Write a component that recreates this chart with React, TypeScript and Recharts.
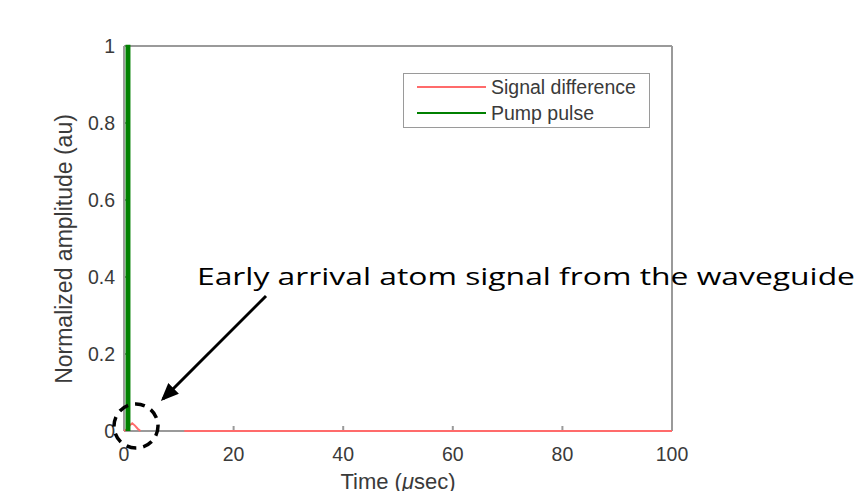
import React from "react";
import { LineChart, Line, XAxis, YAxis } from "recharts";

const TIME_TICKS = [0, 20, 40, 60, 80, 100];
const AMP_TICKS = [0, 0.2, 0.4, 0.6, 0.8, 1];

// signal difference: tiny bump near t=1.5, gap, then flat zero
const SIGNAL_T = [0, 0.5, 1, 1.5, 2, 2.5, 3, 3.5, 11, 30, 60, 100];
const SIGNAL_V = [0, 0.004, 0.014, 0.02, 0.014, 0.006, 0, null, 0, 0, 0, 0];

// pump pulse: narrow rectangle at the start
const PUMP_T = [0.5, 0.5, 0.95, 0.95];
const PUMP_V = [0, 1, 1, 0];

const signalData = SIGNAL_T.map((t, i) => ({ t, v: SIGNAL_V[i] }));
const pumpData = PUMP_T.map((t, i) => ({ t, v: PUMP_V[i] }));

const SERIES = [
  { name: "Signal difference", color: "#ff6b6b" },
  { name: "Pump pulse", color: "#008000" },
];

const AXIS = "#9a9a9a";
const TXT = "#3a3a3a";
const FONT = "'Liberation Sans', Arial, sans-serif";

const LegendBox = () => (
  <div
    style={{
      position: "absolute",
      left: 403,
      top: 73,
      border: `1.5px solid ${AXIS}`,
      background: "#fff",
      width: 247,
      height: 55,
      boxSizing: "border-box",
      fontFamily: FONT,
      fontSize: 19.5,
      color: TXT,
      padding: "0 0 0 13px",
    }}
  >
    {SERIES.map((e) => (
      <div key={e.name} style={{ display: "flex", alignItems: "center", height: 26 }}>
        <span style={{ display: "inline-block", width: 69, height: 2.5, background: e.color, marginRight: 5 }} />
        {e.name}
      </div>
    ))}
  </div>
);

export default function App() {
  return (
    <div style={{ position: "absolute", left: 0, top: 0, width: 864, height: 491, background: "#fff" }}>
      <LineChart width={864} height={491} margin={{ top: 45, right: 191, left: 84, bottom: 30 }}>
        <XAxis
          dataKey="t"
          type="number"
          domain={[0, 100]}
          ticks={TIME_TICKS}
          allowDuplicatedCategory={false}
          stroke={AXIS}
          strokeWidth={2}
          tickSize={-5}
          tickMargin={21}
          height={30}
          tick={{ fill: TXT, fontSize: 19.5, fontFamily: FONT }}
        />
        <XAxis
          xAxisId="top"
          orientation="top"
          dataKey="t"
          type="number"
          domain={[0, 100]}
          ticks={TIME_TICKS}
          allowDuplicatedCategory={false}
          stroke={AXIS}
          strokeWidth={2}
          tickSize={-5}
          height={1}
          tick={false}
        />
        <YAxis
          type="number"
          domain={[0, 1]}
          ticks={AMP_TICKS}
          stroke={AXIS}
          strokeWidth={2}
          tickSize={-5}
          tickMargin={14}
          width={40}
          tick={{ fill: TXT, fontSize: 19.5, fontFamily: FONT }}
        />
        <YAxis
          yAxisId="right"
          orientation="right"
          type="number"
          domain={[0, 1]}
          ticks={AMP_TICKS}
          stroke={AXIS}
          strokeWidth={2}
          tickSize={-5}
          width={1}
          tick={false}
        />
        <Line
          data={signalData}
          dataKey="v"
          name="Signal difference"
          stroke={SERIES[0].color}
          strokeWidth={2}
          dot={false}
          type="linear"
          connectNulls={false}
          isAnimationActive={false}
          zIndex={700}
        />
        <Line
          data={pumpData}
          xAxisId="top"
          yAxisId="right"
          dataKey="v"
          name="Pump pulse"
          stroke={SERIES[1].color}
          strokeWidth={2.5}
          dot={false}
          type="linear"
          isAnimationActive={false}
          zIndex={700}
        />
      </LineChart>

      <LegendBox />

      {/* axis titles */}
      <div
        style={{
          position: "absolute",
          left: 64,
          top: 249,
          transform: "translate(-50%, -50%) rotate(-90deg)",
          whiteSpace: "nowrap",
          fontFamily: FONT,
          fontSize: 23,
          color: TXT,
        }}
      >
        Normalized amplitude (au)
      </div>
      <div
        style={{
          position: "absolute",
          left: 398,
          top: 469,
          transform: "translateX(-50%)",
          whiteSpace: "nowrap",
          fontFamily: FONT,
          fontSize: 22,
          color: TXT,
        }}
      >
        Time (<i>μ</i>sec)
      </div>

      {/* annotation */}
      <svg width={864} height={491} style={{ position: "absolute", left: 0, top: 0, pointerEvents: "none" }}>
        <defs>
          <marker id="head" markerWidth="6" markerHeight="5" refX="5" refY="2.5" orient="auto" markerUnits="strokeWidth">
            <path d="M0,0 L6,2.5 L0,5 Z" fill="#000" />
          </marker>
        </defs>
        <text
          x={197}
          y={285}
          fontFamily="'Open Sans', 'Noto Sans', sans-serif"
          fontSize={23}
          fill="#000"
          textLength={658}
          lengthAdjust="spacingAndGlyphs"
        >
          Early arrival atom signal from the waveguide
        </text>
        <line x1={266} y1={296} x2={163} y2={399} stroke="#000" strokeWidth={3} markerEnd="url(#head)" />
        <circle cx={136} cy={426} r={22} fill="none" stroke="#000" strokeWidth={3.5} strokeDasharray="10 7" />
      </svg>
    </div>
  );
}
